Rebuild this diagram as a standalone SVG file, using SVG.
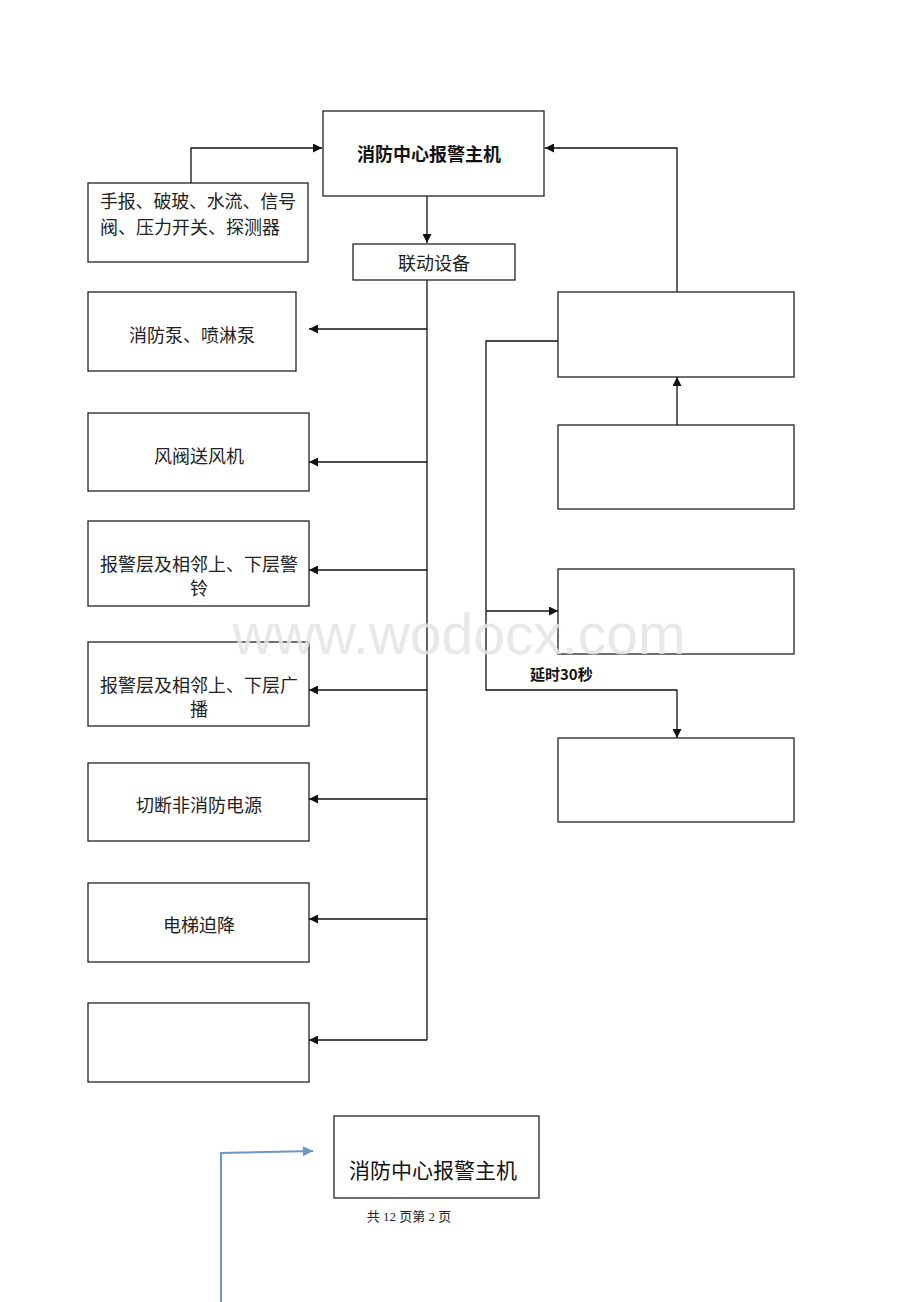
<svg xmlns="http://www.w3.org/2000/svg" width="920" height="1302" viewBox="0 0 920 1302">
<style>
.box{fill:#fff;stroke:#222;stroke-width:1.3}
.ln{fill:none;stroke:#111;stroke-width:1.3}
.t{font-family:"Liberation Serif","Noto Sans CJK SC",serif;font-size:18px;fill:#222;text-anchor:middle}
.b{font-family:"Noto Sans CJK SC",sans-serif;font-weight:bold;font-size:18px;fill:#111;text-anchor:middle}
</style>
<defs>
<marker id="ah" viewBox="0 0 10 10" refX="10" refY="5" markerWidth="10" markerHeight="9" markerUnits="userSpaceOnUse" orient="auto">
<path d="M0,0 L10,5 L0,10 z" fill="#111"/>
</marker>
<marker id="ahb" viewBox="0 0 10 10" refX="10" refY="5" markerWidth="12" markerHeight="10" markerUnits="userSpaceOnUse" orient="auto">
<path d="M0,0 L10,5 L0,10 z" fill="#6b96c6"/>
</marker>
</defs>
<rect width="920" height="1302" fill="#fff"/>
<g id="connectors">
<polyline class="ln" points="191,183 191,148 322,148" marker-end="url(#ah)"/>
<line class="ln" x1="427" y1="196" x2="427" y2="243" marker-end="url(#ah)"/>
<line class="ln" x1="427" y1="280" x2="427" y2="1040"/>
<line class="ln" x1="427" y1="329" x2="309" y2="329" marker-end="url(#ah)"/>
<line class="ln" x1="427" y1="462" x2="309" y2="462" marker-end="url(#ah)"/>
<line class="ln" x1="427" y1="570" x2="309" y2="570" marker-end="url(#ah)"/>
<line class="ln" x1="427" y1="690" x2="309" y2="690" marker-end="url(#ah)"/>
<line class="ln" x1="427" y1="799" x2="309" y2="799" marker-end="url(#ah)"/>
<line class="ln" x1="427" y1="919" x2="309" y2="919" marker-end="url(#ah)"/>
<line class="ln" x1="427" y1="1040" x2="309" y2="1040" marker-end="url(#ah)"/>
<polyline class="ln" points="677,292 677,148 545,148" marker-end="url(#ah)"/>
<line class="ln" x1="677" y1="425" x2="677" y2="377" marker-end="url(#ah)"/>
<polyline class="ln" points="558,341 486,341 486,690 677,690 677,738" marker-end="url(#ah)"/>
<line class="ln" x1="486" y1="611" x2="558" y2="611" marker-end="url(#ah)"/>
<polyline fill="none" stroke="#6b96c6" stroke-width="2" points="221,1302 221,1153 313,1151" marker-end="url(#ahb)"/>
</g>
<g id="main"><rect class="box" x="323" y="111" width="221" height="85"/><text class="b" x="429" y="161">消防中心报警主机</text></g>
<g id="input"><rect class="box" x="88" y="183" width="220" height="79"/><text class="t" x="198" y="208" textLength="196" lengthAdjust="spacing">手报、破玻、水流、信号</text><text class="t" x="100" y="234" style="text-anchor:start">阀、压力开关、探测器</text></g>
<g id="linkage"><rect class="box" x="353" y="244" width="162" height="36"/><text class="t" x="434" y="270">联动设备</text></g>
<g id="pump"><rect class="box" x="88" y="292" width="208" height="79"/><text class="t" x="192" y="342">消防泵、喷淋泵</text></g>
<g id="fan"><rect class="box" x="88" y="413" width="221" height="78"/><text class="t" x="199" y="463">风阀送风机</text></g>
<g id="bell"><rect class="box" x="88" y="521" width="221" height="85"/><text class="t" x="199" y="571">报警层及相邻上、下层警</text><text class="t" x="199" y="595">铃</text></g>
<g id="broadcast"><rect class="box" x="88" y="642" width="221" height="84"/><text class="t" x="199" y="692">报警层及相邻上、下层广</text><text class="t" x="199" y="716">播</text></g>
<g id="power"><rect class="box" x="88" y="763" width="221" height="78"/><text class="t" x="199" y="812">切断非消防电源</text></g>
<g id="elevator"><rect class="box" x="88" y="883" width="221" height="79"/><text class="t" x="199" y="932">电梯迫降</text></g>
<g id="empty1"><rect class="box" x="88" y="1003" width="221" height="79"/></g>
<g id="r1"><rect class="box" x="558" y="292" width="236" height="85"/></g>
<g id="r2"><rect class="box" x="558" y="425" width="236" height="84"/></g>
<g id="r3"><rect class="box" x="558" y="569" width="236" height="85"/></g>
<g id="r4"><rect class="box" x="558" y="738" width="236" height="84"/></g>
<g id="delay"><text x="530" y="680" font-family="Noto Sans CJK SC,sans-serif" font-weight="bold" font-size="15" fill="#111">延时30秒</text></g>
<g id="main2"><rect class="box" x="334" y="1116" width="205" height="82"/><text x="433" y="1178" font-family="Noto Sans CJK SC,sans-serif" font-size="21" fill="#111" text-anchor="middle">消防中心报警主机</text></g>
<text x="409" y="1221" font-family="Liberation Serif,Noto Sans CJK SC,serif" font-size="13" fill="#222" text-anchor="middle">共 12 页第 2 页</text>
<text x="459" y="654" font-family="Liberation Sans,Arial,sans-serif" font-size="57" fill="#e4e4e4" fill-opacity="0.85" text-anchor="middle">www.wodocx.com</text>
</svg>
